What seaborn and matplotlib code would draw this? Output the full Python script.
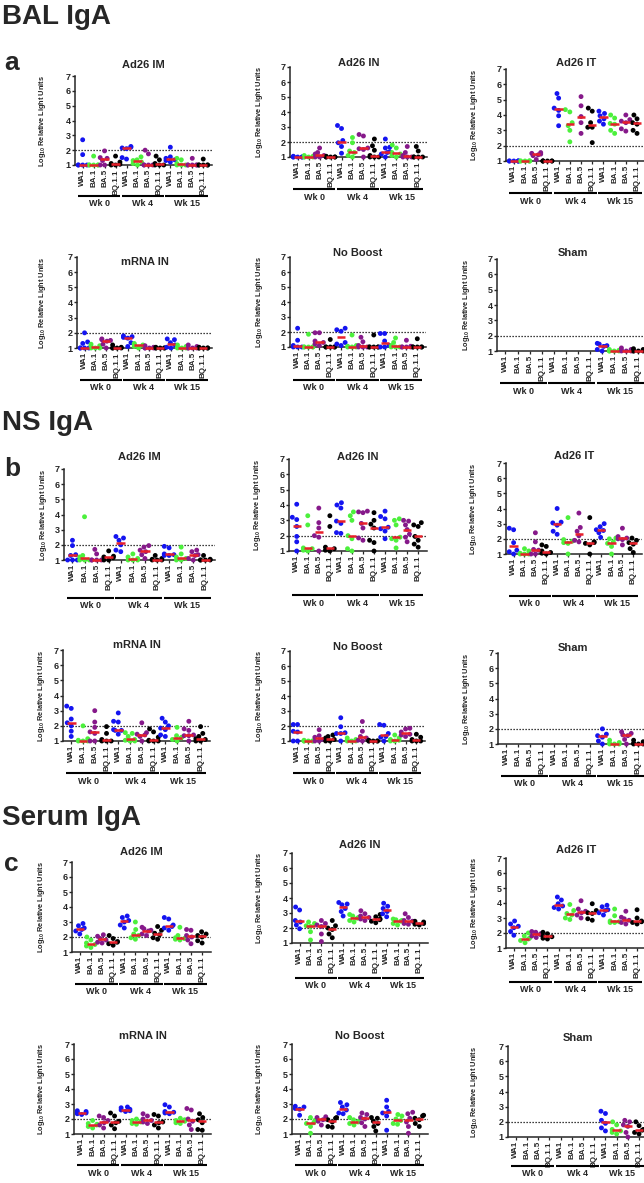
import numpy as np
import pandas as pd
import matplotlib
matplotlib.use("Agg")
from matplotlib import pyplot as plt
import matplotlib.transforms as mtransforms
import seaborn as sns

sns.set_style("ticks")
plt.rcParams['font.family'] = ['Liberation Sans', 'DejaVu Sans']
plt.rcParams['font.weight'] = 'bold'
plt.rcParams['mathtext.fontset'] = 'custom'
plt.rcParams['mathtext.rm'] = 'Liberation Sans'
plt.rcParams['mathtext.bf'] = 'Liberation Sans:bold'

variants = ["WA1", "BA.1", "BA.5", "BQ.1.1"]
weeks = ["Wk 0", "Wk 4", "Wk 15"]
colors = {"WA1": "#1414f0", "BA.1": "#4cf03c", "BA.5": "#86198a", "BQ.1.1": "#000000"}
median_color = "#e8202a"

# groups go Wk 0 (WA1, BA.1, BA.5, BQ.1.1), Wk 4 (...), Wk 15 (...)
bal_ad26_im = [
    [2.7, 1.7, 1.0, 1.0, 1.0, 1.0], [1.6, 1.0, 1.0, 1.0, 1.0, 1.0], [1.95, 1.5, 1.45, 1.3, 1.0, 1.0], [1.6, 1.2, 1.1, 1.05, 1.0, 1.0],
    [2.25, 2.2, 2.15, 2.1, 1.5, 1.4], [1.55, 1.35, 1.3, 1.2, 1.1, 1.0], [2.0, 1.75, 1.0, 1.0, 1.0, 1.0], [1.6, 1.35, 1.1, 1.0, 1.0, 1.0],
    [2.2, 1.55, 1.45, 1.35, 1.3, 1.2], [1.45, 1.35, 1.1, 1.0, 1.0, 1.0], [1.45, 1.0, 1.0, 1.0, 1.0, 1.0], [1.4, 1.0, 1.0, 1.0, 1.0, 1.0],
]
bal_ad26_in = [
    [1.05, 1.0, 1.0, 1.0, 1.0, 1.0], [1.1, 1.05, 1.0, 1.0, 1.0, 1.0], [1.6, 1.3, 1.2, 1.1, 1.0, 1.0], [1.05, 1.0, 1.0, 1.0, 1.0, 1.0],
    [3.1, 2.9, 2.1, 1.95, 1.7, 1.25], [2.3, 1.95, 1.4, 1.3, 1.1, 1.0], [2.5, 2.4, 1.6, 1.55, 1.5, 1.0], [2.2, 1.75, 1.45, 1.1, 1.0, 1.0, 1.0],
    [2.2, 1.65, 1.6, 1.35, 1.3, 1.2, 1.0], [1.8, 1.6, 1.3, 1.2, 1.1, 1.0], [1.7, 1.3, 1.1, 1.0, 1.0, 1.0], [1.7, 1.4, 1.0, 1.0, 1.0, 1.0],
]
bal_ad26_it = [
    [1.0, 1.0, 1.0, 1.0, 1.0, 1.0], [1.0, 1.0, 1.0, 1.0, 1.0, 1.0], [1.55, 1.5, 1.45, 1.4, 1.35, 1.1], [1.0, 1.0, 1.0, 1.0, 1.0, 1.0],
    [5.4, 5.1, 4.45, 4.3, 3.95, 3.3], [4.35, 4.2, 3.5, 3.3, 3.0, 2.25], [5.2, 4.6, 3.9, 3.5, 2.8], [4.45, 4.25, 3.5, 3.2, 3.2, 2.2],
    [4.25, 4.1, 3.95, 3.75, 3.6, 3.4], [4.0, 3.8, 3.45, 3.4, 3.0, 2.8], [4.0, 3.7, 3.6, 3.5, 3.1, 2.95], [4.0, 3.75, 3.5, 3.4, 3.0, 2.8],
]
bal_mrna_in = [
    [2.0, 1.4, 1.3, 1.0, 1.0, 1.0, 1.0], [1.25, 1.15, 1.1, 1.0, 1.0, 1.0], [1.6, 1.55, 1.5, 1.45, 1.25, 1.0], [1.2, 1.05, 1.0, 1.0, 1.0, 1.0],
    [1.8, 1.75, 1.7, 1.65, 1.35, 1.1], [1.3, 1.25, 1.2, 1.15, 1.1, 1.0], [1.15, 1.05, 1.0, 1.0, 1.0, 1.0], [1.05, 1.0, 1.0, 1.0, 1.0, 1.0],
    [1.6, 1.55, 1.35, 1.2, 1.05, 1.0], [1.2, 1.1, 1.05, 1.0, 1.0, 1.0], [1.2, 1.1, 1.0, 1.0, 1.0, 1.0], [1.05, 1.0, 1.0, 1.0, 1.0, 1.0],
]
bal_no_boost = [
    [2.25, 1.45, 1.1, 1.0, 1.0, 1.0], [1.85, 1.0, 1.0, 1.0, 1.0, 1.0], [1.95, 1.95, 1.4, 1.3, 1.2, 1.1], [1.5, 1.0, 1.0, 1.0, 1.0, 1.0],
    [2.25, 2.15, 2.05, 1.3, 1.2, 1.1], [1.8, 1.1, 1.05, 1.0, 1.0, 1.0], [1.65, 1.35, 1.1, 1.0, 1.0, 1.0], [1.8, 1.0, 1.0, 1.0, 1.0, 1.0],
    [1.9, 1.9, 1.4, 1.1, 1.0, 1.0], [1.6, 1.3, 1.1, 1.0, 1.0, 1.0], [1.45, 1.05, 1.0, 1.0, 1.0, 1.0], [1.55, 1.0, 1.0, 1.0, 1.0, 1.0],
]
bal_sham = [
    [], [], [], [],
    [], [], [], [],
    [1.5, 1.45, 1.35, 1.3, 1.1, 1.0], [1.1, 1.05, 1.0, 1.0, 1.0, 1.0], [1.2, 1.1, 1.05, 1.0, 1.0, 1.0], [1.15, 1.1, 1.0, 1.0, 1.0, 1.0],
]
ns_ad26_im = [
    [2.3, 1.95, 1.35, 1.3, 1.0, 1.0, 1.0], [3.85, 1.3, 1.2, 1.0, 1.0, 1.0], [1.7, 1.4, 1.0, 1.0, 1.0, 1.0], [1.6, 1.25, 1.2, 1.15, 1.0, 1.0],
    [2.55, 2.45, 2.3, 2.0, 1.65, 1.55], [1.4, 1.2, 1.1, 1.0, 1.0, 1.0], [1.95, 1.85, 1.65, 1.55, 1.35, 1.1], [1.3, 1.1, 1.05, 1.0, 1.0, 1.0],
    [1.9, 1.8, 1.4, 1.35, 1.3, 1.3], [1.85, 1.4, 1.2, 1.1, 1.0, 1.0], [1.65, 1.55, 1.35, 1.3, 1.1, 1.0], [1.3, 1.05, 1.0, 1.0, 1.0, 1.0],
]
ns_ad26_in = [
    [4.05, 3.2, 3.05, 2.6, 1.95, 1.6, 1.0], [3.3, 2.7, 1.2, 1.15, 1.05, 1.0], [3.8, 2.85, 2.5, 2.0, 1.9, 1.0], [3.3, 2.6, 1.25, 1.15, 1.05, 1.0],
    [4.15, 4.0, 3.8, 2.95, 2.8, 2.2, 2.15], [3.55, 3.3, 3.0, 2.0, 1.8, 1.15, 1.0], [3.6, 3.55, 3.5, 2.8, 2.5, 1.85, 1.7], [3.5, 3.0, 2.75, 2.5, 1.7, 1.55, 1.0],
    [3.6, 3.25, 3.1, 2.55, 2.45, 2.3, 1.8], [3.1, 3.0, 2.7, 1.9, 1.8, 1.7, 1.2], [3.0, 2.95, 2.7, 2.4, 2.1, 1.9, 1.6], [2.85, 2.7, 2.6, 1.95, 1.7, 1.45, 1.25],
]
ns_ad26_it = [
    [2.7, 2.6, 1.75, 1.25, 1.15, 1.0], [1.35, 1.2, 1.05, 1.0, 1.0, 1.0], [2.4, 1.8, 1.3, 1.25, 1.0, 1.0], [1.6, 1.5, 1.2, 1.1, 1.05, 1.0],
    [4.0, 3.1, 3.05, 2.9, 2.5, 2.3], [3.4, 1.95, 1.85, 1.75, 1.7, 1.0], [3.7, 2.75, 2.5, 2.2, 1.9, 1.8], [3.4, 1.8, 1.75, 1.7, 1.6, 1.0],
    [3.0, 2.8, 2.6, 2.55, 2.4, 2.1], [2.05, 2.0, 1.8, 1.7, 1.5, 1.0], [2.7, 2.15, 2.05, 2.0, 1.95, 1.6], [2.05, 1.9, 1.75, 1.65, 1.35, 1.1],
]
ns_mrna_in = [
    [3.3, 3.15, 2.45, 2.2, 2.0, 1.65, 1.3], [2.0, 1.15, 1.05, 1.0, 1.0, 1.0], [3.0, 2.25, 1.9, 1.6, 1.5, 1.0, 1.0], [1.95, 1.5, 1.1, 1.0, 1.0, 1.0],
    [2.85, 2.3, 2.25, 1.75, 1.7, 1.7, 1.45], [1.55, 1.5, 1.3, 1.1, 1.05, 1.0, 1.0], [2.2, 1.55, 1.45, 1.4, 1.3, 1.0], [1.8, 1.6, 1.25, 1.05, 1.0, 1.0, 1.0],
    [2.5, 2.25, 2.0, 1.85, 1.75, 1.4, 1.3], [1.9, 1.35, 1.25, 1.2, 1.1, 1.0], [2.3, 1.8, 1.7, 1.4, 1.35, 1.35, 1.0], [1.95, 1.5, 1.3, 1.15, 1.1, 1.0, 1.0],
]
ns_no_boost = [
    [2.1, 2.1, 1.65, 1.6, 1.0, 1.0], [1.05, 1.0, 1.0, 1.0, 1.0, 1.0], [1.75, 1.35, 1.25, 1.1, 1.0, 1.0], [1.4, 1.3, 1.2, 1.1, 1.0, 1.0],
    [2.55, 1.95, 1.55, 1.5, 1.5, 1.0], [1.2, 1.1, 1.05, 1.0, 1.0, 1.0], [2.3, 1.65, 1.3, 1.2, 1.05, 1.0], [1.05, 1.0, 1.0, 1.0, 1.0, 1.0],
    [2.1, 2.05, 1.5, 1.3, 1.25, 1.0], [1.4, 1.2, 1.1, 1.05, 1.0, 1.0], [1.85, 1.8, 1.6, 1.45, 1.4, 1.3], [1.45, 1.25, 1.1, 1.0, 1.0, 1.0],
]
ns_sham = [
    [], [], [], [],
    [], [], [], [],
    [2.0, 1.65, 1.55, 1.45, 1.2, 1.0], [1.25, 1.1, 1.05, 1.0, 1.0, 1.0], [1.8, 1.7, 1.6, 1.55, 1.3, 1.0], [1.25, 1.15, 1.05, 1.0, 1.0, 1.0],
]
serum_ad26_im = [
    [2.9, 2.75, 2.6, 2.5, 2.4, 2.2], [2.0, 1.8, 1.6, 1.5, 1.4, 1.3], [2.15, 2.05, 1.9, 1.8, 1.65, 1.6], [2.1, 1.9, 1.7, 1.65, 1.55, 1.45],
    [3.4, 3.3, 3.1, 3.0, 2.8, 2.6], [3.0, 2.5, 2.2, 2.1, 1.95, 1.85], [2.65, 2.55, 2.45, 2.4, 2.2, 2.1], [2.7, 2.45, 2.25, 2.15, 1.95, 1.85],
    [3.3, 3.2, 2.8, 2.7, 2.6, 2.45], [2.65, 2.1, 1.95, 1.9, 1.85, 1.8], [2.5, 2.45, 2.1, 2.0, 1.8, 1.55], [2.35, 2.2, 2.1, 2.0, 1.75, 1.6],
]
serum_ad26_in = [
    [3.4, 3.2, 2.5, 2.4, 2.2, 1.95], [2.4, 2.3, 2.15, 2.1, 1.75, 1.2], [2.5, 2.3, 2.2, 2.1, 1.6, 1.1], [2.5, 2.15, 2.0, 1.9, 1.6, 1.35],
    [3.7, 3.6, 3.55, 3.3, 3.1, 2.8], [2.9, 2.8, 2.7, 2.65, 2.5, 2.4], [3.15, 2.95, 2.8, 2.7, 2.6, 2.5], [2.9, 2.75, 2.6, 2.55, 2.45, 2.35],
    [3.65, 3.45, 3.3, 3.1, 2.95, 2.75], [2.6, 2.55, 2.5, 2.45, 2.3, 2.2], [2.95, 2.7, 2.5, 2.45, 2.3, 2.25], [2.45, 2.4, 2.35, 2.3, 2.25, 2.2],
]
serum_ad26_it = [
    [2.8, 2.6, 2.45, 2.35, 2.1, 1.85], [2.0, 1.8, 1.65, 1.6, 1.5, 1.35], [2.1, 2.05, 1.95, 1.9, 1.8, 1.7], [2.05, 1.95, 1.8, 1.75, 1.65, 1.6],
    [4.4, 4.2, 3.95, 3.8, 3.7, 3.6], [3.9, 3.5, 3.3, 3.2, 3.0, 2.9], [4.15, 3.6, 3.45, 3.35, 3.2, 3.0], [3.95, 3.5, 3.35, 3.3, 2.95, 2.85],
    [3.85, 3.75, 3.55, 3.5, 3.35, 3.2], [3.6, 3.15, 2.8, 2.75, 2.7, 2.7], [3.45, 3.05, 2.95, 2.85, 2.7, 2.6], [3.55, 3.0, 2.8, 2.75, 2.7, 2.6],
]
serum_mrna_in = [
    [2.55, 2.5, 2.45, 2.4, 2.35, 2.3], [1.9, 1.7, 1.65, 1.6, 1.5, 1.4], [2.2, 2.1, 1.9, 1.75, 1.6, 1.4], [2.4, 2.2, 1.85, 1.75, 1.6, 1.35],
    [2.8, 2.75, 2.65, 2.6, 2.55, 2.5], [2.0, 1.9, 1.85, 1.8, 1.7, 1.65], [2.35, 2.2, 2.0, 1.9, 1.8, 1.7], [2.3, 2.2, 1.8, 1.75, 1.6, 1.4],
    [2.95, 2.8, 2.5, 2.45, 2.4, 2.35], [2.05, 1.95, 1.9, 1.85, 1.75, 1.7], [2.7, 2.6, 2.0, 1.85, 1.6, 1.3], [2.35, 2.1, 1.95, 1.75, 1.3, 1.25],
]
serum_no_boost = [
    [2.85, 2.8, 2.7, 2.65, 2.25], [2.1, 1.9, 1.75, 1.7, 1.5, 1.05], [2.15, 2.1, 2.0, 1.95, 1.85, 1.6], [2.1, 2.05, 1.95, 1.8, 1.5, 1.45],
    [3.1, 2.95, 2.8, 2.6, 2.4, 2.35], [2.1, 1.95, 1.85, 1.8, 1.7, 1.6], [2.4, 2.3, 2.1, 2.0, 1.75, 1.5], [2.1, 2.05, 1.85, 1.7, 1.5, 1.2],
    [3.25, 2.8, 2.5, 2.4, 2.2, 1.25], [2.3, 2.2, 2.0, 1.9, 1.7, 1.65], [2.45, 2.35, 2.05, 1.8, 1.5, 1.05], [2.25, 2.2, 2.05, 1.95, 1.7, 1.5],
]
serum_sham = [
    [], [], [], [],
    [], [], [], [],
    [2.7, 2.55, 2.1, 1.9, 1.6, 1.4], [2.0, 1.8, 1.5, 1.4, 1.3, 1.2], [2.1, 2.0, 1.8, 1.7, 1.3, 1.0], [2.0, 1.75, 1.5, 1.45, 1.3, 1.2],
]

W, H = 644, 1183

# title, data, left/top/bottom/right of plot area (px), title y, ylabel x, gap to Wk bar
panels = [
    ("Ad26 IM", bal_ad26_im, 75, 76, 165, 212, 65, 48, 31),
    ("Ad26 IN", bal_ad26_in, 290, 67, 157, 427, 63, 265, 32),
    ("Ad26 IT", bal_ad26_it, 506, 69, 161, 646, 63, 480, 32),
    ("mRNA IN", bal_mrna_in, 77, 257, 348, 212, 262, 48, 32),
    ("No Boost", bal_no_boost, 290, 257, 347, 426, 253, 265, 33),
    ("Sham", bal_sham, 497, 259, 351, 648, 253, 472, 32),
    ("Ad26 IM", ns_ad26_im, 64, 469, 560, 215, 457, 49, 38),
    ("Ad26 IN", ns_ad26_in, 289, 459, 551, 427, 457, 263, 44),
    ("Ad26 IT", ns_ad26_it, 506, 463, 554, 642, 456, 479, 42),
    ("mRNA IN", ns_mrna_in, 63, 650, 741, 210, 645, 47, 32),
    ("No Boost", ns_no_boost, 290, 651, 741, 425, 647, 265, 32),
    ("Sham", ns_sham, 498, 653, 744, 648, 648, 472, 32),
    ("Ad26 IM", serum_ad26_im, 72, 862, 952, 211, 852, 47, 32),
    ("Ad26 IN", serum_ad26_in, 292, 853, 943, 428, 845, 265, 35),
    ("Ad26 IT", serum_ad26_it, 506, 858, 948, 646, 850, 480, 34),
    ("mRNA IN", serum_mrna_in, 74, 1044, 1134, 211, 1036, 47, 31),
    ("No Boost", serum_no_boost, 292, 1044, 1134, 428, 1036, 265, 31),
    ("Sham", serum_sham, 508, 1046, 1137, 648, 1038, 480, 29),
]

headings = [("BAL IgA", 17), ("NS IgA", 423), ("Serum IgA", 818)]
letters = [("a", 63), ("b", 469), ("c", 864)]

order = [f"{w} {v}" for w in weeks for v in variants]

fig = plt.figure(figsize=(W / 100, H / 100), dpi=100)

for title, groups, L, T, B, R, ty, ylx, gap in panels:
    ax = fig.add_axes([L / W, 1 - B / H, (R - L) / W, (B - T) / H])
    rows = []
    for i, vals in enumerate(groups):
        for v in vals:
            rows.append((order[i], variants[i % 4], v))
    df = pd.DataFrame(rows, columns=["group", "variant", "value"])

    ax.axhline(2, color="black", lw=0.9, ls=(0, (1, 1.4)), zorder=1)
    sns.swarmplot(data=df, x="group", y="value", hue="variant", order=order,
                  hue_order=variants, palette=colors, size=3.5, legend=False,
                  warn_thresh=1, ax=ax, zorder=3)
    for coll in ax.collections:
        coll.set_clip_on(False)

    med = df.groupby("group")["value"].median()
    xs = [order.index(g) for g in med.index]
    ax.hlines(med.values, np.array(xs) - 0.38, np.array(xs) + 0.38,
              color=median_color, lw=1.8, zorder=4, clip_on=False)

    ax.set_ylim(1, 7)
    ax.set_xlim(-0.7, 11.8)
    ax.set_yticks(range(1, 8))
    ax.set_xticks(range(12))
    ax.set_xticklabels(variants * 3, rotation=90, fontsize=5.8, fontweight="bold")
    ax.tick_params(axis="y", labelsize=6.5, length=2.2, width=1, pad=1)
    ax.tick_params(axis="x", length=2, width=0.9, pad=1)
    for lab in ax.get_yticklabels():
        lab.set_fontweight("bold")
    ax.set_xlabel("")
    ax.set_ylabel(r"Log$_{\mathbf{10}}$ Relative Light Units", fontsize=5.3, fontweight="bold")
    ax.yaxis.set_label_coords((ylx - L) / (R - L), 0.5)
    sns.despine(ax=ax)
    for s in ["left", "bottom"]:
        ax.spines[s].set_linewidth(1.1)

    h = B - T
    trans = mtransforms.blended_transform_factory(ax.transData, ax.transAxes)
    for k, wk in enumerate(weeks):
        ax.plot([4 * k - 0.45, 4 * k + 3.45], [-gap / h, -gap / h], transform=trans,
                color="black", lw=1.5, clip_on=False, solid_capstyle="butt")
        ax.text(4 * k + 1.5, -(gap + 8) / h, wk, transform=trans, ha="center",
                va="center", fontsize=6.5, fontweight="bold")
    ax.text(0.5, (B - ty) / h, title, transform=ax.transAxes, ha="center",
            va="center", fontsize=8, fontweight="bold")

for text, y in headings:
    fig.text(2 / W, 1 - y / H, text, fontsize=20, fontweight="bold", va="center", ha="left")
for text, y in letters:
    fig.text(4 / W, 1 - y / H, text, fontsize=19, fontweight="bold", va="center", ha="left")

fig.savefig("out.png", dpi=100)
